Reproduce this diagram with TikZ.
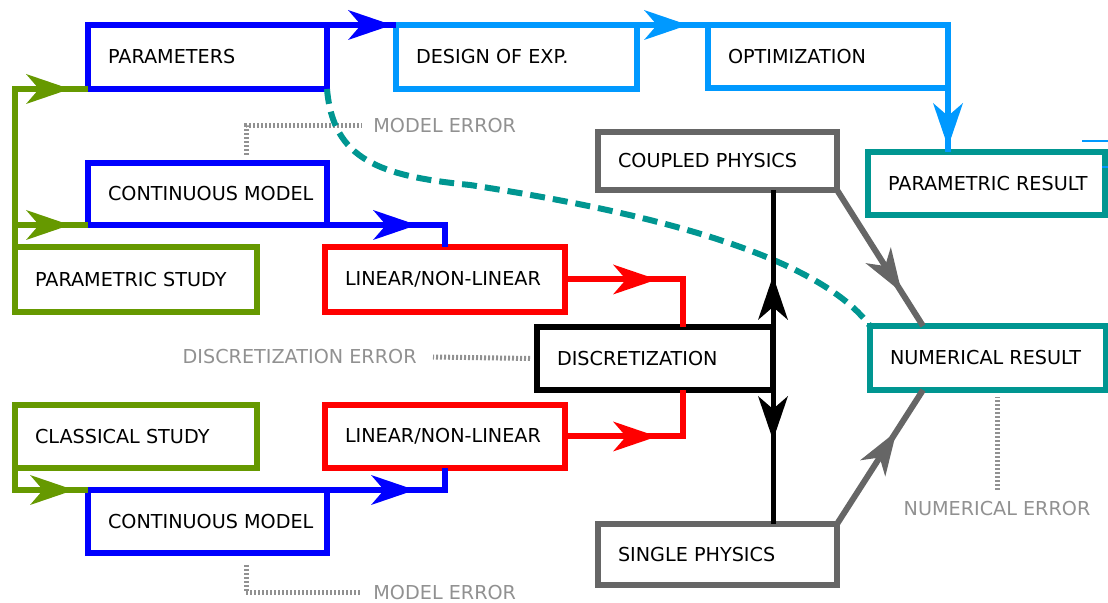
\documentclass[tikz,border=0pt]{standalone}
\usepackage{fontspec}
\setmainfont{DejaVu Sans}
\usetikzlibrary{arrows.meta,decorations.markings,calc}

\definecolor{cblue}{RGB}{0,0,255}
\definecolor{clight}{RGB}{0,153,255}
\definecolor{cteal}{RGB}{0,150,145}
\definecolor{cgreen}{RGB}{102,153,0}
\definecolor{cred}{RGB}{255,0,0}
\definecolor{cgray}{RGB}{102,102,102}
\definecolor{cerr}{RGB}{145,145,145}

\begin{document}
\begin{tikzpicture}[
    x=0.5pt, y=-0.5pt,
    % === ĐỊNH NGHĨA STYLE ===
    box/.style={draw, line width=3pt, anchor=north west, outer sep=0pt,
        inner xsep=10pt, inner ysep=0pt, minimum height=32pt,
        font=\fontsize{9.6}{11}\selectfont,
        execute at begin node={\hbox to #1\bgroup},
        execute at end node={\hss\egroup}},
    box/.default=100pt,
    link/.style={line width=3pt},
    flowtip/.tip={Stealth[length=22pt, width=15pt, inset=6.5pt, line width=0pt]},
    arrow at/.style={postaction={decorate, decoration={markings,
        mark=at position #1 with {\arrow{flowtip}}}}},
    errline/.style={line width=2.5pt, cerr, dash pattern=on 1pt off 1pt},
    errlabel/.style={text=cerr, inner sep=0pt, font=\fontsize{9.6}{11}\selectfont},
]
    \useasboundingbox (0,0) rectangle (1108,603);

    % === CÁC HỘP ===
    \node[box=99.5pt, draw=cblue] (param) at (88,25) {PARAMETERS};
    \node[box=100.5pt, draw=clight] (doe) at (396,25) {DESIGN OF EXP.};
    \node[box, draw=clight, minimum height=31.5pt] (opt) at (708,25) {OPTIMIZATION};
    \node[box=98.5pt, draw=cteal, minimum height=31.5pt] (pres) at (868,152) {PARAMETRIC RESULT};
    \node[box=99.5pt, draw=cgray, minimum height=29pt] (cphys) at (598,132) {COUPLED PHYSICS};
    \node[box=99.5pt, draw=cblue, minimum height=31pt] (cmodel) at (88,163) {CONTINUOUS MODEL};
    \node[box=101pt, draw=cgreen, minimum height=32.5pt] (pstudy) at (15,247) {PARAMETRIC STUDY};
    \node[box, draw=cred, minimum height=32.5pt] (linA) at (325,247) {LINEAR/NON-LINEAR};
    \node[box=98pt, draw=black, minimum height=31.5pt] (disc) at (537,327) {DISCRETIZATION};
    \node[box=98pt, draw=cteal] (nres) at (870,326) {NUMERICAL RESULT};
    \node[box=101pt, draw=cgreen, minimum height=31.5pt] (cstudy) at (15,405) {CLASSICAL STUDY};
    \node[box, draw=cred, minimum height=31.5pt] (linB) at (325,405) {LINEAR/NON-LINEAR};
    \node[box=99.5pt, draw=cblue, minimum height=31.5pt] (cmodelB) at (88,490) {CONTINUOUS MODEL};
    \node[box=99.5pt, draw=cgray, minimum height=30.5pt] (sphys) at (598,524) {SINGLE PHYSICS};

    % === NHÃN SAI SỐ ===
    \node[errlabel, anchor=west] (errA) at (373,126) {MODEL ERROR};
    \node[errlabel, anchor=east] (errD) at (417,357) {DISCRETIZATION ERROR};
    \node[errlabel, anchor=north] (errN) at (997,501) {NUMERICAL ERROR};
    \node[errlabel, anchor=west] (errB) at (373,593) {MODEL ERROR};

    \coordinate (errAfoot) at (246,155);
    \coordinate (errBfoot) at (246,565);
    \draw[errline] (errAfoot) |- ([xshift=-5.5pt]errA.west);
    \draw[errline] ([xshift=-3.5pt]disc.west) -- ([xshift=8pt]errD.east);
    \draw[errline] ([yshift=5.5pt]errN.north) -- ([yshift=-3.5pt]nres.south -| errN.north);
    \draw[errline] (errBfoot) |- ([xshift=-5.5pt]errB.west);

    % === ĐƯỜNG CONG SAI SỐ MÔ HÌNH ===
    \draw[link, cteal, dash pattern=on 7.5pt off 4pt] (param.south east)
        .. controls (333,160) and (380,176) .. (470,185)
        .. controls (600,205) and (810,245) .. (nres.north west);

    % === MŨI TÊN ===
    % nhánh tham số
    \draw[link, cblue, arrow at=-2pt] (param.north east) -- (doe.north west);
    \draw[link, clight, arrow at=-10pt] (doe.north east) -- (opt.north west);
    \draw[link, clight, arrow at=-2.5pt] (opt.north east) -- (opt.north east |- pres.north);

    % nghiên cứu tham số / cổ điển
    \draw[link, cgreen, arrow at=-9pt] (pstudy.north west) |- (param.south west);
    \draw[link, cgreen, arrow at=-9pt] (pstudy.north west) |- (cmodel.south west);
    \draw[link, cgreen, arrow at=-7pt] (cstudy.south west) |- (cmodelB.north west);

    % mô hình liên tục -> tuyến tính / phi tuyến
    \draw[link, cblue, arrow at=45pt] (cmodel.south east) -| (linA.north);
    \draw[link, cblue, arrow at=44pt] (cmodelB.north east) -| (linB.south);

    % tuyến tính / phi tuyến -> rời rạc hóa
    \coordinate (redx) at (683,0);
    \draw[link, cred, arrow at=46pt] (linA.east) -| (redx |- disc.north);
    \draw[link, cred, arrow at=46pt] (linB.east) -| (redx |- disc.south);

    % rời rạc hóa -> vật lý
    \draw[line width=2.5pt, arrow at=25.5pt] (disc.north east) -- (disc.north east |- cphys.south);
    \draw[line width=2.5pt, arrow at=25pt] (disc.south east) -- (disc.south east |- sphys.north);

    % vật lý -> kết quả số
    \coordinate (nresTop) at ($(nres.north west)+(53,0)$);
    \coordinate (nresBot) at ($(nres.south west)+(53,0)$);
    \draw[link, cgray, arrow at=60.5pt] (cphys.south east) -- (nresTop);
    \draw[link, cgray, arrow at=55pt] (sphys.north east) -- (nresBot);

    % mảnh bị cắt ở mép phải
    \draw[clight, line width=1pt] (1082,141) -- (1108,141);
    \draw[clight, line width=1pt] (1102,167) -- (1108,167);

\end{tikzpicture}
\end{document}
